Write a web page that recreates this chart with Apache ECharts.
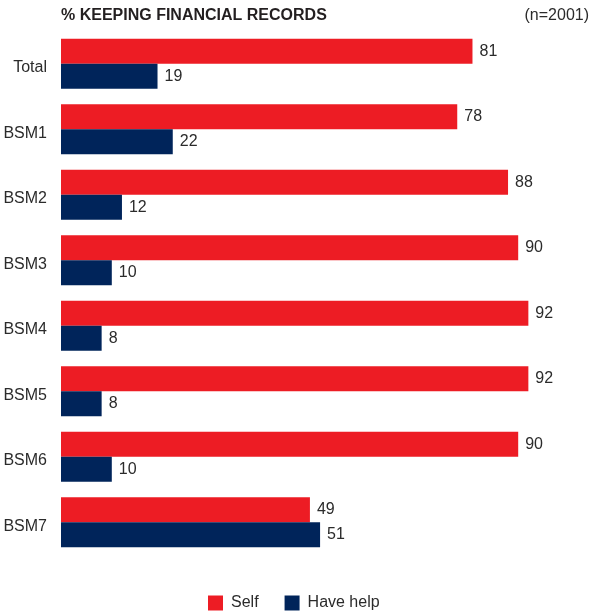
<!DOCTYPE html>
<html>
<head>
<meta charset="utf-8">
<script src="https://cdn.jsdelivr.net/npm/echarts@6/dist/echarts.min.js"></script>
<style>
  html, body { margin: 0; padding: 0; background: #fff; }
  #chart { width: 595px; height: 616px; }
</style>
</head>
<body>
<div id="chart"></div>
<script>
// Share of respondents keeping financial records, by segment
const categories = ['Total', 'BSM1', 'BSM2', 'BSM3', 'BSM4', 'BSM5', 'BSM6', 'BSM7'];
const selfValues = [81, 78, 88, 90, 92, 92, 90, 49];
const helpValues = [19, 22, 12, 10, 8, 8, 10, 51];
const seriesNames = ['Self', 'Have help'];

const FONT = '"Liberation Sans Narrow", "Liberation Sans", Arial, sans-serif';
const TEXT = '#2b2b2b';

const chart = echarts.init(document.getElementById('chart'));

const valueLabel = {
  show: true,
  position: 'right',
  distance: 7,
  color: TEXT,
  fontFamily: FONT,
  fontSize: 16
};

chart.setOption({
  animation: false,
  title: [
    {
      text: '% KEEPING FINANCIAL RECORDS',
      left: 56,
      top: 3,
      textStyle: { fontFamily: FONT, fontWeight: 'bold', fontSize: 16, color: '#231f20' }
    },
    {
      text: '(n=2001)',
      right: 1,
      top: 3,
      textStyle: { fontFamily: FONT, fontWeight: 'normal', fontSize: 16, color: TEXT }
    }
  ],
  legend: {
    bottom: 0,
    left: 203,
    icon: 'rect',
    itemWidth: 15,
    itemHeight: 15,
    itemGap: 26,
    textStyle: { fontFamily: FONT, fontSize: 16, color: TEXT, padding: [0, 0, 0, 3] },
    data: seriesNames
  },
  grid: { left: 61, right: 26, top: 31, bottom: 61, containLabel: false },
  xAxis: {
    type: 'value',
    min: 0,
    max: 100,
    show: false
  },
  yAxis: {
    type: 'category',
    inverse: true,
    data: categories,
    axisLine: { show: false },
    axisTick: { show: false },
    axisLabel: {
      color: TEXT,
      fontFamily: FONT,
      fontSize: 16,
      margin: 14,
      // small line box anchored at the tick pushes the text a few px below centre
      verticalAlign: 'top',
      lineHeight: 8
    }
  },
  series: [
    {
      name: seriesNames[0],
      type: 'bar',
      data: selfValues,
      barWidth: 25,
      barGap: '0%',
      itemStyle: { color: '#ED1C24' },
      label: valueLabel
    },
    {
      name: seriesNames[1],
      type: 'bar',
      data: helpValues,
      barWidth: 25,
      itemStyle: { color: '#00245A' },
      label: valueLabel
    }
  ]
});
</script>
</body>
</html>
